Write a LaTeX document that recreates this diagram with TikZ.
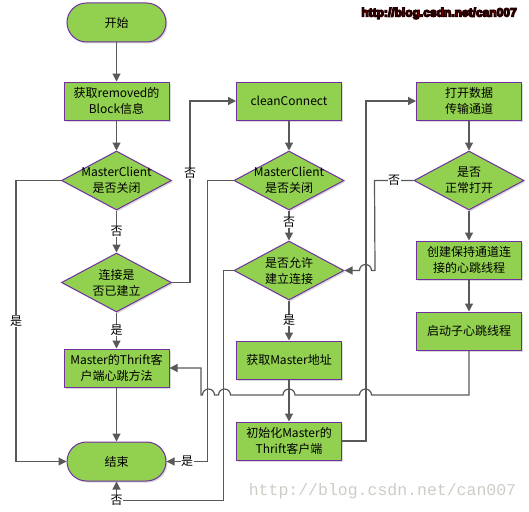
\documentclass[tikz,border=0pt]{standalone}
\usepackage{fontspec}
\setmainfont{Noto Sans CJK SC}
\newfontfamily\wmfont{Liberation Sans}
\newfontfamily\wmmono{Liberation Mono}
\usetikzlibrary{shapes.geometric,arrows.meta,shadows}
\definecolor{fillg}{HTML}{92D050}
\definecolor{bord}{HTML}{7030A0}
\definecolor{lin}{HTML}{595959}
\definecolor{wmgrey}{RGB}{205,205,198}
\newcommand\outlinedtext[1]{\special{pdf:literal direct 2 Tr 1.3 w 0.15 0 0 RG}#1\special{pdf:literal direct 0 Tr}}
\begin{document}
\begin{tikzpicture}[x=1pt,y=1pt,
  font=\fontsize{12}{16}\selectfont,
  base/.style={draw=bord, fill=fillg, line width=1pt,
    drop shadow={shadow xshift=1.5pt,shadow yshift=-1.5pt,opacity=0.3}},
  term/.style={base, rectangle, rounded corners=19.5pt, minimum width=99pt, minimum height=39pt, inner sep=0pt},
  box/.style={base, rectangle, minimum width=105pt, minimum height=38pt, align=center, inner sep=0pt},
  dia/.style={base, diamond, minimum width=110pt, minimum height=59pt, inner sep=0pt},
  dlab/.style={label={[align=center,inner sep=0pt]center:#1}},
  arr/.style={draw=lin, line width=1.2pt, -{Triangle[length=8pt,width=8pt]}},
  lab/.style={fill=white, inner sep=0.5pt, text=black}
]
\useasboundingbox (0,0) rectangle (529,-511);

% watermarks
\node[text=red, font=\wmfont\bfseries\fontsize{12}{14}\selectfont] (wm) at (439,-13.5) {\outlinedtext{http://blog.csdn.net/can007}};
\node[text=wmgrey, font=\wmmono\fontsize{16.5}{18}\selectfont] (wm2) at (382.5,-491) {http://blog.csdn.net/can007};

% column 1
\node[term] (start) at (116.5,-22.5) {开始};
\node[box] (b1) at (116.5,-101) {获取removed的\\Block信息};
\node[dia, dlab={MasterClient\\是否关闭}] (d1) at (116.5,-180.5) {};
\node[dia, dlab={连接是\\否已建立}] (d2) at (116.5,-282.5) {};
\node[box] (b2) at (116.5,-368) {Master的Thrift客\\户端心跳方法};
\node[term] (stop) at (116.5,-461.5) {结束};

% column 2
\node[box] (b3) at (289,-101) {cleanConnect};
\node[dia, dlab={MasterClient\\是否关闭}] (d3) at (289,-180.5) {};
\node[dia, dlab={是否允许\\建立连接}] (d4) at (289,-270.5) {};
\node[box] (b4) at (289,-360) {获取Master地址};
\node[box] (b5) at (289,-441) {初始化Master的\\Thrift客户端};

% column 3
\node[box] (b6) at (469,-101) {打开数据\\传输通道};
\node[dia, dlab={是否\\正常打开}] (d5) at (469,-180.5) {};
\node[box] (b7) at (469,-260) {创建保持通道连\\接的心跳线程};
\node[box] (b8) at (469,-331) {启动子心跳线程};

% connectors column 1
\draw[arr] (start) -- (b1);
\draw[arr] (b1) -- (d1);
\draw[arr] (d1) -- node[lab]{否} (d2);
\draw[arr] (d2) -- node[lab]{是} (b2);
\draw[arr] (b2) -- (stop);
\draw[arr] (d1.west) -- ++(-45,0) |- node[lab,pos=0.25]{是} (stop.west);
\draw[arr] (d2.east) -- ++(18,0) |- node[lab,pos=0.3]{否} (b3.west);

% connectors column 2
\draw[arr] (b3) -- (d3);
\draw[arr] (d3) -- node[lab,pos=0.4]{否} (d4);
\draw[arr] (d4) -- node[lab]{是} (b4);
\draw[arr] (b4) -- (b5);
\draw[arr] (d3.west) -- ++(-26,0) |- node[lab,pos=0.75]{是} (stop.east);
\draw[arr] (d4.west) -- ++(-10,0) |- ([yshift=-19pt]stop.south) node[lab]{否} -- (stop.south);
\draw[arr] (b5.east) -- ++(24,0) |- (b6.west);

% connectors column 3
\draw[arr] (b6) -- (d5);
\draw[arr] (d5) -- (b7);
\draw[arr] (b7) -- (b8);
\draw[arr] (d5.west) -- node[lab]{否} ++(-39,0) -- (375,-270.5) -- (371.5,-270.5)
  arc[start angle=0,end angle=180,radius=6] -- (d4.east);
\draw[arr] (b8.south) -- (469,-395) -- (371.5,-395)
  arc[start angle=0,end angle=180,radius=6] -- (295,-395)
  arc[start angle=0,end angle=180,radius=6] -- (230.5,-395)
  arc[start angle=0,end angle=180,radius=6] -- (214.5,-395)
  arc[start angle=0,end angle=180,radius=6] -- (201,-395) |- (b2.east);
\end{tikzpicture}
\end{document}
